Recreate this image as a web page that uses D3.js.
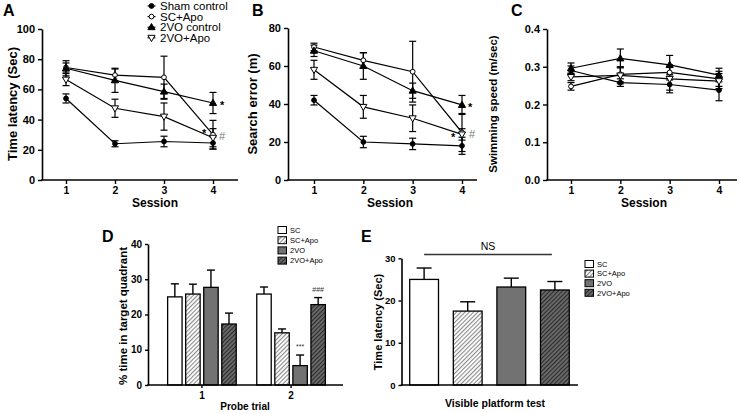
<!DOCTYPE html>
<html><head><meta charset="utf-8">
<script src="https://cdn.jsdelivr.net/npm/d3@7"></script>
<style>
body{margin:0;background:#fff;}
svg{display:block;}
</style></head><body>
<svg id="c" width="741" height="413"></svg>
<script>
const FONT = '"Liberation Sans", Arial, Helvetica, sans-serif';
// ---------- data ----------
const sessions = [1, 2, 3, 4];
const lineGroups = ["Sham control", "SC+Apo", "2VO control", "2VO+Apo"];
// A: time latency (Sec)
const aSham = [54, 24, 25.5, 24.5],   aShamErr = [3, 2, 3.5, 4];
const aScApo = [74.5, 69.5, 68, 30],  aScApoErr = [3, 4, 14, 9.5];
const aVo = [74, 66, 58.5, 51],       aVoErr = [5, 8, 5, 7];
const aVoApo = [66.5, 47.5, 42, 28],  aVoApoErr = [4, 6, 9, 6];
// B: search error (m)
const bSham = [42, 20, 19, 18],       bShamErr = [2.5, 3, 3, 4.5];
const bScApo = [70, 63, 57, 25],      bScApoErr = [2, 4, 16, 10];
const bVo = [68, 60, 47, 39.5],       bVoErr = [3, 7, 4, 5];
const bVoApo = [58, 38.5, 32.5, 24],  bVoApoErr = [5, 6, 7, 3];
// C: swimming speed (m/sec)
const cSham = [0.29, 0.258, 0.253, 0.238],   cShamErr = [0.012, 0.01, 0.022, 0.028];
const cScApo = [0.248, 0.28, 0.285, 0.268],  cScApoErr = [0.01, 0.02, 0.02, 0.02];
const cVo = [0.296, 0.322, 0.305, 0.278],    cVoErr = [0.014, 0.025, 0.025, 0.018];
const cVoApo = [0.273, 0.277, 0.268, 0.262], cVoApoErr = [0.01, 0.022, 0.03, 0.02];
// D: % time in target quadrant
const barGroups = ["SC", "SC+Apo", "2VO", "2VO+Apo"];
const probeTrials = ["1", "2"];
const dTrial1 = [25, 25.8, 27.7, 17.3], dTrial1Err = [3.7, 2.8, 4.9, 3.1];
const dTrial2 = [25.8, 14.8, 5.5, 22.8], dTrial2Err = [2, 1.1, 3, 2];
// E: visible platform time latency
const eValues = [25, 17.5, 23.2, 22.5], eErr = [2.7, 2.2, 2.1, 2];

const svg = d3.select("#c");
svg.append("rect").attr("width", 741).attr("height", 413).attr("fill", "#fff");

// patterns
const defs = svg.append("defs");
function hatch(id, bg, fg) {
  const p = defs.append("pattern").attr("id", id).attr("patternUnits", "userSpaceOnUse")
    .attr("width", 3).attr("height", 3).attr("patternTransform", "rotate(45)");
  p.append("rect").attr("width", 3).attr("height", 3).attr("fill", bg);
  p.append("line").attr("x1", 0.5).attr("y1", 0).attr("x2", 0.5).attr("y2", 3).attr("stroke", fg).attr("stroke-width", 1.2);
}
hatch("hLight", "#ffffff", "#8a8a8a");
hatch("hDark", "#6a6a6a", "#2c2c2c");
const barFills = ["#ffffff", "url(#hLight)", "#727272", "url(#hDark)"];

function styleAxis(sel, fs) {
  sel.attr("font-family", FONT);
  sel.select(".domain").attr("stroke", "#000").attr("stroke-width", 1.6);
  sel.selectAll(".tick line").attr("stroke", "#000").attr("stroke-width", 1.4);
  sel.selectAll(".tick text").attr("fill", "#000").attr("font-size", fs).attr("font-weight", "bold");
}
function text(g, x, y, s, o = {}) {
  const t = g.append("text").attr("x", x).attr("y", y).text(s)
    .attr("font-family", FONT).attr("font-size", o.size || 12)
    .attr("font-weight", o.weight || "bold").attr("fill", o.fill || "#000")
    .attr("text-anchor", o.anchor || "start");
  if (o.rot) t.attr("transform", `rotate(-90,${x},${y})`);
  if (o.dy) t.attr("dy", o.dy);
  return t;
}
const shapes = ["fc", "oc", "ft", "ot"];
function marker(g, shape, cx, cy) {
  const isTri = shape[1] === "t";
  const sym = d3.symbol().type(isTri ? d3.symbolTriangle : d3.symbolCircle).size(isTri ? 22 : 18);
  const rot = shape === "ot" ? 180 : 0;
  g.append("path").attr("d", sym())
    .attr("transform", `translate(${cx},${cy + (shape === "ot" ? -0.4 : shape === "ft" ? 0.4 : 0)}) rotate(${rot})`)
    .attr("fill", shape[0] === "f" ? "#000" : "#fff").attr("stroke", "#000").attr("stroke-width", 1);
}

function linePanel(o) {
  const g = svg.append("g");
  const x = d3.scaleLinear().domain([1, 4]).range(o.xr);
  const y = d3.scaleLinear().domain(o.yd).range([180, o.yTop]);
  const gy = g.append("g").attr("transform", `translate(${o.ax},0)`)
    .call(d3.axisLeft(y).tickValues(o.yt).tickFormat(o.fmt).tickSize(4).tickSizeOuter(0).tickPadding(3));
  styleAxis(gy, o.tickFs);
  const gx = g.append("g").attr("transform", "translate(0,180)")
    .call(d3.axisBottom(x).tickValues(sessions).tickFormat(d3.format("d")).tickSize(4).tickSizeOuter(0).tickPadding(2.5));
  styleAxis(gx, 10.5);
  gx.select(".domain").remove();
  g.append("line").attr("x1", o.ax - 0.8).attr("x2", o.axEnd).attr("y1", 180).attr("y2", 180)
    .attr("stroke", "#000").attr("stroke-width", 1.6);
  const line = d3.line().x((d, i) => x(sessions[i])).y(d => y(d));
  o.series.forEach(s => {
    g.append("path").attr("d", line(s.mean)).attr("fill", "none").attr("stroke", "#000").attr("stroke-width", 1.2);
  });
  o.series.forEach(s => {
    s.mean.forEach((m, i) => {
      const cx = x(sessions[i]), y1 = y(m - s.err[i]), y2 = y(m + s.err[i]);
      g.append("line").attr("x1", cx).attr("x2", cx).attr("y1", y1).attr("y2", y2).attr("stroke", "#000").attr("stroke-width", 1.2);
      [y1, y2].forEach(yy => g.append("line").attr("x1", cx - 3.5).attr("x2", cx + 3.5).attr("y1", yy).attr("y2", yy)
        .attr("stroke", "#000").attr("stroke-width", 1.2));
    });
  });
  o.series.forEach((s, k) => {
    s.mean.forEach((m, i) => marker(g, shapes[k], x(sessions[i]), y(m)));
  });
  text(g, o.letterX, 16, o.letter, { size: 16 });
  text(g, o.ylx, 104, o.ytitle, { size: o.yfs, anchor: "middle", rot: true, dy: "0.35em" });
  text(g, o.sessX, 207, "Session", { size: 12, anchor: "middle" });
  return { g, x, y };
}

const A = linePanel({
  xr: [66, 213], ax: 42, axEnd: 238, yd: [0, 100], yTop: 29, yt: [0, 20, 40, 60, 80, 100],
  fmt: d3.format("d"), tickFs: 11, letter: "A", letterX: 3, ytitle: "Time latency (Sec)", ylx: 12, yfs: 13,
  sessX: 155,
  series: [
    { mean: aSham, err: aShamErr }, { mean: aScApo, err: aScApoErr },
    { mean: aVo, err: aVoErr }, { mean: aVoApo, err: aVoApoErr }]
});
const B = linePanel({
  xr: [314, 462], ax: 288, axEnd: 477, yd: [0, 80], yTop: 28, yt: [0, 20, 40, 60, 80],
  fmt: d3.format("d"), tickFs: 11, letter: "B", letterX: 252, ytitle: "Search error (m)", ylx: 252, yfs: 13,
  sessX: 390,
  series: [
    { mean: bSham, err: bShamErr }, { mean: bScApo, err: bScApoErr },
    { mean: bVo, err: bVoErr }, { mean: bVoApo, err: bVoApoErr }]
});
const C = linePanel({
  xr: [571, 719], ax: 547, axEnd: 737, yd: [0, 0.4], yTop: 29, yt: [0, 0.1, 0.2, 0.3, 0.4],
  fmt: d3.format(".1f"), tickFs: 11, letter: "C", letterX: 511, ytitle: "Swimming speed (m/sec)", ylx: 493, yfs: 11.5,
  sessX: 644,
  series: [
    { mean: cSham, err: cShamErr }, { mean: cScApo, err: cScApoErr },
    { mean: cVo, err: cVoErr }, { mean: cVoApo, err: cVoApoErr }]
});

// legend for A
lineGroups.forEach((name, i) => {
  const yy = 6 + i * 10.6;
  A.g.append("line").attr("x1", 147.5).attr("x2", 155.5).attr("y1", yy).attr("y2", yy).attr("stroke", "#000").attr("stroke-width", 1.1);
  marker(A.g, shapes[i], 151.5, yy);
  text(A.g, 160, yy, name, { size: 11.5, weight: "normal", dy: "0.36em" });
});
// significance marks A & B
text(A.g, A.x(4) + 7, A.y(aVo[3]) + 6, "*", { size: 11 });
text(A.g, A.x(4) - 11, A.y(aScApo[3]) + 2, "*", { size: 11 });
text(A.g, A.x(4) + 6, A.y(aScApo[3]) + 5, "#", { size: 11, weight: "normal", fill: "#777" });
text(B.g, B.x(4) + 6, B.y(bVo[3]) + 6, "*", { size: 11 });
text(B.g, B.x(4) - 11, B.y(bScApo[3]) + 8, "*", { size: 11 });
text(B.g, B.x(4) + 7, B.y(bScApo[3]) + 5, "#", { size: 11, weight: "normal", fill: "#777" });

// ---------- bar panels ----------
function errBar(g, cx, yTop, yErr, half) {
  g.append("line").attr("x1", cx).attr("x2", cx).attr("y1", yTop).attr("y2", yErr).attr("stroke", "#000").attr("stroke-width", 1.4);
  g.append("line").attr("x1", cx - half).attr("x2", cx + half).attr("y1", yErr).attr("y2", yErr).attr("stroke", "#000").attr("stroke-width", 1.4);
}
function barLegend(g, x0, y0, step, fs) {
  barGroups.forEach((name, i) => {
    const yy = y0 + i * step;
    g.append("rect").attr("x", x0).attr("y", yy - 3.5).attr("width", 8.5).attr("height", 7)
      .attr("fill", barFills[i]).attr("stroke", "#000").attr("stroke-width", 1);
    text(g, x0 + 12, yy, name, { size: fs, weight: "normal", dy: "0.36em" });
  });
}

// D
{
  const g = svg.append("g");
  const y = d3.scaleLinear().domain([0, 40]).range([385, 244]);
  const gx = d3.scaleBand().domain(probeTrials).range([148, 345]).paddingInner(0.19).paddingOuter(0.2);
  const bx = d3.scaleBand().domain(barGroups).range([0, gx.bandwidth()]).paddingInner(0.2).paddingOuter(0.1);
  const trials = [[dTrial1, dTrial1Err], [dTrial2, dTrial2Err]];
  trials.forEach(([vals, errs], t) => {
    barGroups.forEach((name, i) => {
      const x0 = gx(probeTrials[t]) + bx(name), w = bx.bandwidth();
      errBar(g, x0 + w / 2, y(vals[i]), y(vals[i] + errs[i]), 4);
      g.append("rect").attr("x", x0).attr("y", y(vals[i])).attr("width", w).attr("height", y(0) - y(vals[i]))
        .attr("fill", barFills[i]).attr("stroke", "#000").attr("stroke-width", 1.3);
    });
  });
  const ay = g.append("g").attr("transform", "translate(148,0)")
    .call(d3.axisLeft(y).tickValues([0, 10, 20, 30, 40]).tickSize(3).tickSizeOuter(0).tickPadding(3));
  styleAxis(ay, 10);
  const ax = g.append("g").attr("transform", "translate(0,385)")
    .call(d3.axisBottom(gx).tickSize(3).tickSizeOuter(0).tickPadding(4));
  styleAxis(ax, 10);
  ax.select(".domain").remove();
  g.append("line").attr("x1", 147.2).attr("x2", 343).attr("y1", 385).attr("y2", 385).attr("stroke", "#000").attr("stroke-width", 1.6);
  const c2 = gx("2");
  text(g, c2 + bx("2VO") + bx.bandwidth() / 2, y(dTrial2[2] + dTrial2Err[2]) - 6, "***", { size: 7, weight: "normal", anchor: "middle", fill: "#333" });
  text(g, c2 + bx("2VO+Apo") + bx.bandwidth() / 2, y(dTrial2[3] + dTrial2Err[3]) - 6, "###", { size: 7, weight: "normal", anchor: "middle", fill: "#333" });
  text(g, 102, 242, "D", { size: 16 });
  text(g, 123, 316, "% time in target quadrant", { size: 11.5, anchor: "middle", rot: true, dy: "0.35em" });
  text(g, 245, 410, "Probe trial", { size: 10, anchor: "middle" });
  barLegend(g, 278, 230, 10.2, 7.5);
}

// E
{
  const g = svg.append("g");
  const y = d3.scaleLinear().domain([0, 30]).range([385, 258.3]);
  const bx = d3.scaleBand().domain(barGroups).range([401, 578]).paddingInner(0.34).paddingOuter(0.2);
  barGroups.forEach((name, i) => {
    const x0 = bx(name), w = bx.bandwidth();
    errBar(g, x0 + w / 2, y(eValues[i]), y(eValues[i] + eErr[i]), 7.5);
    g.append("rect").attr("x", x0).attr("y", y(eValues[i])).attr("width", w).attr("height", y(0) - y(eValues[i]))
      .attr("fill", barFills[i]).attr("stroke", "#000").attr("stroke-width", 1.3);
  });
  const ay = g.append("g").attr("transform", "translate(401.5,0)")
    .call(d3.axisLeft(y).tickValues([0, 10, 20, 30]).tickSize(3).tickSizeOuter(0).tickPadding(3));
  styleAxis(ay, 9.5);
  g.append("line").attr("x1", 400.7).attr("x2", 578).attr("y1", 385).attr("y2", 385).attr("stroke", "#000").attr("stroke-width", 1.6);
  const nsX1 = bx(barGroups[0]) + bx.bandwidth() / 2, nsX2 = bx(barGroups[3]) + bx.bandwidth() / 2 - 3;
  g.append("line").attr("x1", nsX1).attr("x2", nsX2).attr("y1", 254.5).attr("y2", 254.5).attr("stroke", "#333").attr("stroke-width", 1.5);
  text(g, (nsX1 + nsX2) / 2, 249.5, "NS", { size: 10.5, weight: "normal", anchor: "middle" });
  text(g, 361, 242, "E", { size: 16 });
  text(g, 378, 322, "Time latency (Sec)", { size: 11, anchor: "middle", rot: true, dy: "0.35em" });
  text(g, 495, 407, "Visible platform test", { size: 10.5, anchor: "middle" });
  barLegend(g, 585, 264, 9.6, 7.5);
}
</script>
</body></html>
